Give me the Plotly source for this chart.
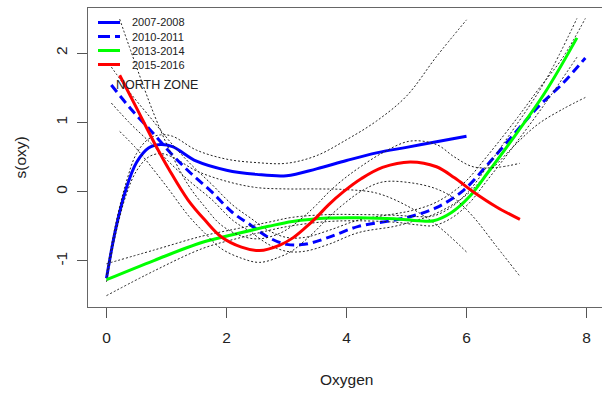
import plotly.graph_objects as go

# ---------------- data ----------------
x_0708 = [0, 0.15, 0.33, 0.5, 0.7, 0.9, 1.1, 1.5, 2.0, 2.5, 3.0, 3.5, 4.0, 4.5, 5.0, 5.5, 6.0]
y_0708 = [-1.25, -0.55, 0.05, 0.42, 0.63, 0.68, 0.65, 0.44, 0.31, 0.25, 0.23, 0.33, 0.45, 0.56, 0.64, 0.72, 0.80]
up_0708 = [-1.20, -0.48, 0.14, 0.55, 0.76, 0.82, 0.80, 0.60, 0.47, 0.42, 0.41, 0.52, 0.75, 1.02, 1.38, 1.95, 2.48]
lo_0708 = [-1.30, -0.62, -0.04, 0.30, 0.50, 0.55, 0.50, 0.30, 0.15, 0.06, 0.04, 0.04, 0.03, -0.02, -0.20, -0.48, -0.87]

x_1011 = [0.08, 0.4, 0.75, 1.1, 1.4, 1.75, 2.1, 2.4, 2.7, 3.0, 3.3, 3.7, 4.2, 4.8, 5.1, 5.5, 5.95, 6.35, 6.85, 7.2, 7.6, 7.98]
y_1011 = [1.54, 1.20, 0.87, 0.53, 0.27, 0.0, -0.30, -0.48, -0.66, -0.76, -0.76, -0.66, -0.50, -0.41, -0.35, -0.23, 0.02, 0.39, 0.89, 1.23, 1.56, 1.93]
up_1011 = [1.80, 1.42, 1.05, 0.68, 0.40, 0.11, -0.19, -0.38, -0.56, -0.66, -0.66, -0.56, -0.41, -0.32, -0.27, -0.15, 0.12, 0.52, 1.07, 1.48, 1.93, 2.50]
lo_1011 = [1.28, 0.98, 0.69, 0.38, 0.14, -0.11, -0.41, -0.58, -0.76, -0.86, -0.86, -0.76, -0.59, -0.50, -0.43, -0.31, -0.08, 0.26, 0.71, 0.98, 1.19, 1.36]

x_1314 = [0, 0.8, 1.6, 2.2, 2.7, 3.1, 3.7, 4.2, 4.8, 5.2, 5.45, 5.75, 6.05, 6.35, 6.7, 7.3, 7.84]
y_1314 = [-1.27, -0.99, -0.73, -0.60, -0.50, -0.43, -0.38, -0.375, -0.39, -0.42, -0.42, -0.30, -0.07, 0.27, 0.68, 1.42, 2.22]
up_1314 = [-1.04, -0.84, -0.64, -0.53, -0.44, -0.37, -0.33, -0.33, -0.34, -0.36, -0.35, -0.22, 0.02, 0.37, 0.80, 1.58, 2.50]
lo_1314 = [-1.50, -1.14, -0.82, -0.67, -0.56, -0.49, -0.43, -0.42, -0.44, -0.48, -0.49, -0.38, -0.16, 0.17, 0.56, 1.26, 1.94]

x_1516 = [0.22, 0.5, 0.8, 1.05, 1.36, 1.64, 1.91, 2.25, 2.55, 2.89, 3.1, 3.3, 3.5, 3.7, 3.95, 4.25, 4.6, 5.06, 5.5, 5.8, 6.11, 6.5, 6.89]
y_1516 = [1.68, 1.21, 0.70, 0.31, -0.12, -0.41, -0.65, -0.80, -0.85, -0.77, -0.67, -0.53, -0.37, -0.19, 0.0, 0.19, 0.35, 0.43, 0.36, 0.20, 0.0, -0.22, -0.40]
up_1516 = [2.49, 1.80, 1.10, 0.60, 0.10, -0.22, -0.48, -0.64, -0.68, -0.60, -0.49, -0.35, -0.19, -0.01, 0.18, 0.37, 0.56, 0.73, 0.68, 0.50, 0.36, 0.35, 0.41]
lo_1516 = [0.87, 0.62, 0.30, 0.02, -0.34, -0.60, -0.82, -0.96, -1.02, -0.94, -0.85, -0.71, -0.55, -0.37, -0.18, 0.01, 0.14, 0.13, 0.04, -0.10, -0.36, -0.79, -1.22]

series_names = ["2007-2008", "2010-2011", "2013-2014", "2015-2016"]
series_colors = ["#0000FF", "#0000FF", "#00FF00", "#FF0000"]
series_dash = ["solid", "9px,5px", "solid", "solid"]

x_ticks = [0, 2, 4, 6, 8]
y_ticks = [-1, 0, 1, 2]
y_tick_text = ["-1", "0", "1", "2"]

# ---------------- figure ----------------
W, H = 602, 394
ML, MR, MT, MB = 88, 0, 8, 87
FONT = "Arial, 'Liberation Sans', sans-serif"

fig = go.Figure()
data = [
    (x_0708, y_0708, up_0708, lo_0708),
    (x_1011, y_1011, up_1011, lo_1011),
    (x_1314, y_1314, up_1314, lo_1314),
    (x_1516, y_1516, up_1516, lo_1516),
]
for (xs, ys, ups, los), name, col, dash in zip(data, series_names, series_colors, series_dash):
    fig.add_trace(go.Scatter(x=xs, y=ys, mode="lines", name=name,
                             line=dict(color=col, width=3, dash=dash, shape="spline", smoothing=1),
                             showlegend=False))
    for band in (ups, los):
        fig.add_trace(go.Scatter(x=xs, y=band, mode="lines", showlegend=False,
                                 line=dict(color="#222222", width=1, dash="2px,2px",
                                           shape="spline", smoothing=1)))

# custom legend (R-style, no box)
pw = W - ML - MR
ph = H - MT - MB
def px2paper_x(px):
    return (px - ML) / pw
def py2paper_y(py):
    return (H - MB - py) / ph

row_y = [22.5, 36.5, 50.5, 64.5]
for name, col, dash, ry in zip(series_names, series_colors, series_dash, row_y):
    fig.add_shape(type="line", xref="paper", yref="paper",
                  x0=px2paper_x(98), x1=px2paper_x(120), y0=py2paper_y(ry), y1=py2paper_y(ry),
                  line=dict(color=col, width=3, dash=("12px,5px" if dash != "solid" else "solid")))
    fig.add_annotation(xref="paper", yref="paper", x=px2paper_x(130), y=py2paper_y(ry),
                       xanchor="left", yanchor="middle", text=name, showarrow=False,
                       font=dict(family=FONT, size=11, color="#222222"))

fig.add_annotation(xref="paper", yref="paper", x=px2paper_x(114), y=py2paper_y(85),
                   xanchor="left", yanchor="middle", text="NORTH ZONE", showarrow=False,
                   font=dict(family=FONT, size=12.5, color="#222222"))

# axis titles
fig.add_annotation(xref="x", yref="paper", x=4, y=0, yshift=-72, xanchor="center", yanchor="middle",
                   text="Oxygen", showarrow=False, font=dict(family=FONT, size=15.5, color="#222222"))
fig.add_annotation(xref="paper", yref="paper", x=0, xshift=-68, y=0.5, xanchor="center", yanchor="middle",
                   text="s(oxy)", textangle=-90, showarrow=False,
                   font=dict(family=FONT, size=15.5, color="#222222"))

axis_common = dict(showgrid=False, zeroline=False, showline=True, linecolor="#666666", linewidth=1,
                   ticks="outside", ticklen=10, tickwidth=1, tickcolor="#555555",
                   tickfont=dict(family=FONT, size=15.5, color="#222222"))

fig.update_layout(
    width=W, height=H,
    margin=dict(l=ML, r=MR, t=MT, b=MB),
    paper_bgcolor="white", plot_bgcolor="white",
    showlegend=False,
    xaxis=dict(range=[-0.3083, 8.258], tickvals=x_ticks, mirror=True, ticklabelstandoff=6,
               **axis_common),
    yaxis=dict(range=[-1.664, 2.651], tickvals=y_ticks, ticktext=y_tick_text, tickangle=-90,
               mirror=False, ticklabelstandoff=4, **axis_common),
)

fig.write_html("out.html")
